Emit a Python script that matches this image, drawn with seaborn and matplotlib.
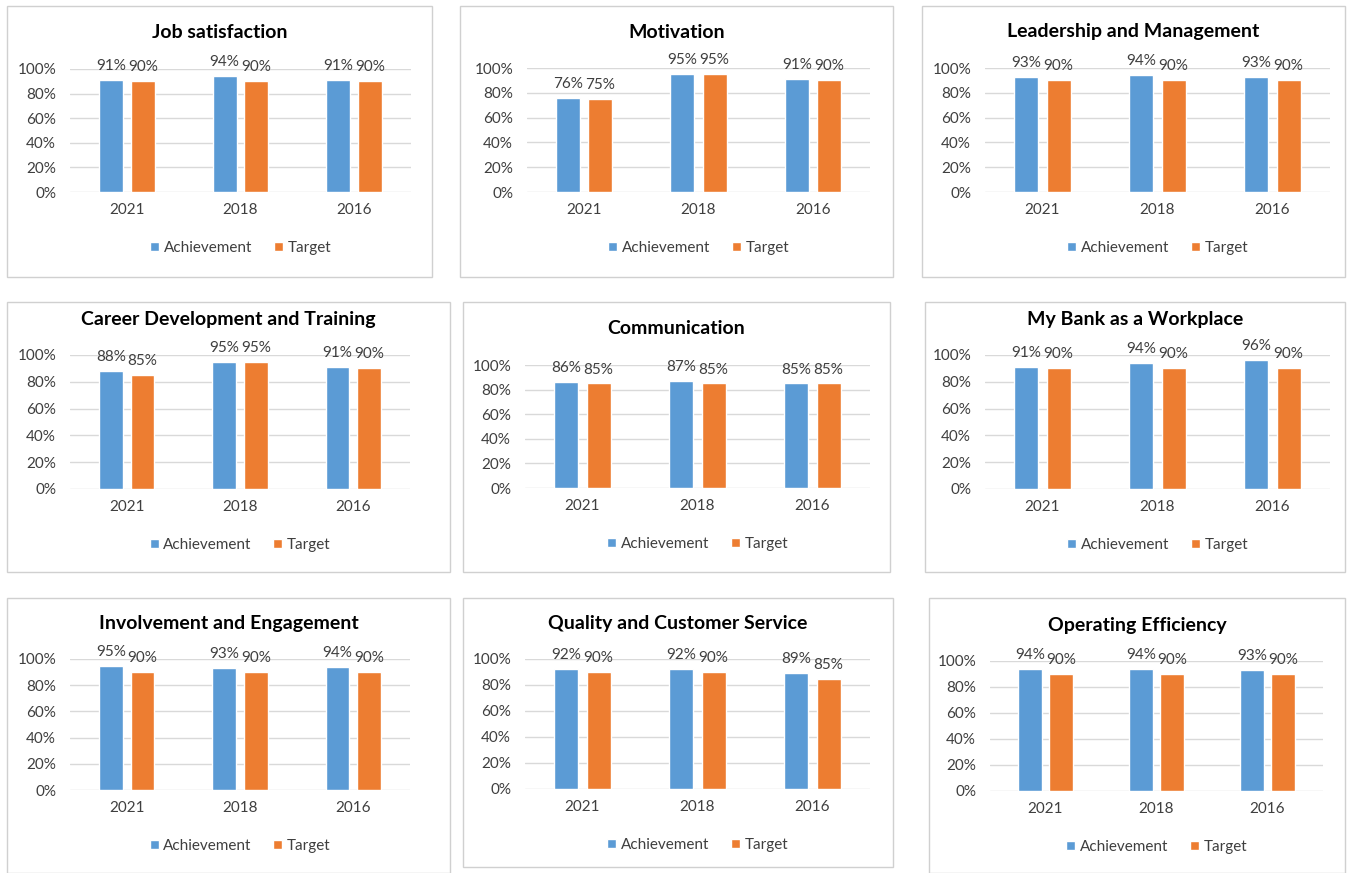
import pandas as pd
import numpy as np
import matplotlib
matplotlib.use("Agg")
import matplotlib.pyplot as plt
import seaborn as sb
from matplotlib.ticker import PercentFormatter
from matplotlib.patches import Rectangle

years = ["2021", "2018", "2016"]
series = ["Achievement", "Target"]

titles = ["Job satisfaction", "Motivation", "Leadership and Management",
          "Career Development and Training", "Communication", "My Bank as a Workplace",
          "Involvement and Engagement", "Quality and Customer Service", "Operating Efficiency"]

achievement = [[0.91, 0.94, 0.91],
               [0.76, 0.95, 0.91],
               [0.93, 0.94, 0.93],
               [0.88, 0.95, 0.91],
               [0.86, 0.87, 0.85],
               [0.91, 0.94, 0.96],
               [0.95, 0.93, 0.94],
               [0.92, 0.92, 0.89],
               [0.94, 0.94, 0.93]]

target = [[0.90, 0.90, 0.90],
          [0.75, 0.95, 0.90],
          [0.90, 0.90, 0.90],
          [0.85, 0.95, 0.90],
          [0.85, 0.85, 0.85],
          [0.90, 0.90, 0.90],
          [0.90, 0.90, 0.90],
          [0.90, 0.90, 0.85],
          [0.90, 0.90, 0.90]]

W, H = 1347, 873
# pixel layout: box (x0, y0, x1, y1), plot area (x0, ytop, x1, ybottom)
boxes = [(7, 6, 432, 277), (460, 6, 893, 277), (922, 6, 1345, 277),
         (7, 302, 450, 572), (463, 302, 890, 572), (925, 302, 1345, 572),
         (7, 598, 450, 873), (463, 598, 893, 867), (929, 598, 1345, 873)]
areas = [(70, 69, 411, 192), (527, 68, 870, 192), (985, 68, 1330, 192),
         (70, 355, 410, 489), (525, 365, 870, 488), (985, 355, 1330, 489),
         (70, 659, 410, 790), (525, 659, 870, 789), (990, 661, 1323, 791)]

rows = []
for t, a, g in zip(titles, achievement, target):
    for y, va, vt in zip(years, a, g):
        rows.append({"chart": t, "year": y, "series": "Achievement", "value": va})
        rows.append({"chart": t, "year": y, "series": "Target", "value": vt})
data = pd.DataFrame(rows)

sb.set_theme(style="white")
plt.rcParams["font.family"] = ["Lato", "DejaVu Sans"]
txt = "#3F3F3F"
palette = {"Achievement": "#5B9BD5", "Target": "#ED7D31"}

fig = plt.figure(figsize=(W / 100, H / 100), dpi=100)
fig.patch.set_facecolor("white")

for i, t in enumerate(titles):
    bx0, by0, bx1, by1 = boxes[i]
    fig.add_artist(Rectangle((bx0 / W, 1 - by1 / H), (bx1 - bx0) / W, (by1 - by0) / H,
                             transform=fig.transFigure, fill=False,
                             edgecolor="#D0D0D0", linewidth=1))
    x0, yt, x1, yb = areas[i]
    ax = fig.add_axes([x0 / W, 1 - yb / H, (x1 - x0) / W, (yb - yt) / H])
    sub = data[data.chart == t]
    sb.barplot(data=sub, x="year", y="value", hue="series", order=years,
               hue_order=series, palette=palette, width=0.56, gap=0.25,
               saturation=1, ax=ax, legend=True)
    for c in ax.containers:
        ax.bar_label(c, labels=[f"{v * 100:.0f}%" for v in c.datavalues],
                     padding=5, fontsize=11, color=txt, clip_on=False)
    ax.set_ylim(0, 1)
    ax.set_xlim(-0.5, 2.5)
    ax.set_yticks(np.arange(0, 1.01, 0.2))
    ax.yaxis.set_major_formatter(PercentFormatter(1.0, decimals=0))
    ax.grid(axis="y", color="#D9D9D9", linewidth=1)
    ax.set_axisbelow(True)
    for s in ax.spines.values():
        s.set_visible(False)
    ax.tick_params(axis="y", length=0, pad=10, labelsize=11, labelcolor=txt)
    ax.tick_params(axis="x", length=0, pad=8, labelsize=11, labelcolor=txt)
    ax.set_xlabel("")
    ax.set_ylabel("")
    cx = (bx0 + bx1) / 2
    fig.text(cx / W, 1 - (yt - 36) / H, t, ha="center", va="center",
             fontsize=14, fontweight="bold", color="black")
    handles, labels = ax.get_legend_handles_labels()
    ax.legend(handles, labels, loc="center", ncol=2, frameon=False,
              bbox_to_anchor=((x0 + x1) / 2 / W, 1 - (yb + 56) / H),
              bbox_transform=fig.transFigure, fontsize=11, labelcolor=txt,
              handlelength=0.6, handleheight=0.6, handletextpad=0.3,
              columnspacing=1.4)

plt.savefig("out.png", dpi=100)
